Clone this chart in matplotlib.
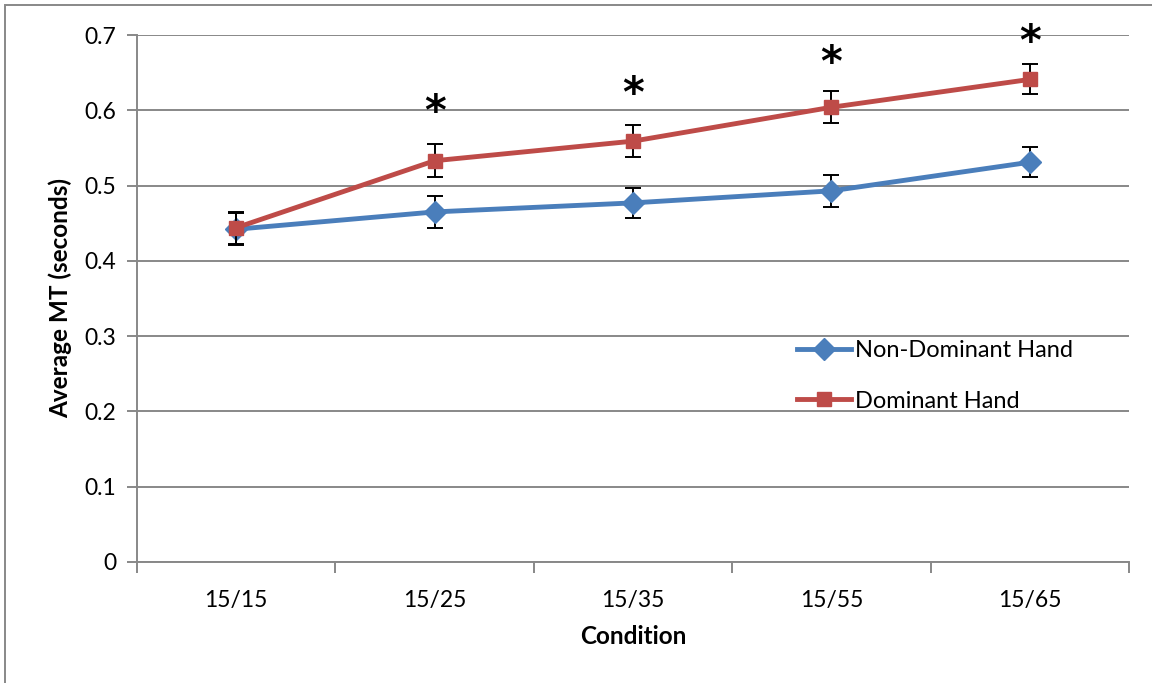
import matplotlib
matplotlib.use("Agg")
import matplotlib.pyplot as plt
from matplotlib.patches import Rectangle
from matplotlib.lines import Line2D

categories = ["15/15", "15/25", "15/35", "15/55", "15/65"]
non_dominant = [0.442, 0.465, 0.477, 0.493, 0.531]
non_dominant_err = [0.021, 0.021, 0.020, 0.021, 0.020]
dominant = [0.444, 0.533, 0.559, 0.604, 0.641]
dominant_err = [0.021, 0.022, 0.021, 0.021, 0.020]
star_y = [None, 0.596, 0.620, 0.661, 0.690]
yticks = [0, 0.1, 0.2, 0.3, 0.4, 0.5, 0.6, 0.7]
series_names = ["Non-Dominant Hand", "Dominant Hand"]

plt.rcParams['font.family'] = ['Lato', 'DejaVu Sans']

W, H = 1152, 683
fig = plt.figure(figsize=(W / 100, H / 100), dpi=100)
ax = fig.add_axes([137 / W, 1 - 562 / H, (1129 - 137) / W, (562 - 35) / H])

blue = "#4A7EBB"
red = "#BE4B48"
grid_c = "#888888"

x = list(range(len(categories)))
ax.errorbar(x, non_dominant, yerr=non_dominant_err, color=blue, lw=3.5,
            marker="D", ms=11, mec=blue, mfc=blue, ecolor="black",
            elinewidth=1.4, capsize=6, capthick=1.4, zorder=3)
ax.errorbar(x, dominant, yerr=dominant_err, color=red, lw=3.5,
            marker="s", ms=10, mec=red, mfc=red, ecolor="black",
            elinewidth=1.4, capsize=6, capthick=1.4, zorder=4)

for xi, sy in zip(x, star_y):
    if sy is not None:
        ax.text(xi, sy, "*", ha="center", va="center", fontsize=30,
                family="DejaVu Sans", fontweight="bold", color="black")

ax.set_xlim(-0.5, len(categories) - 0.5)
ax.set_ylim(0, 0.7)
ax.set_yticks(yticks)
ax.set_yticklabels([f"{v:g}" for v in yticks])
ax.yaxis.grid(True, color=grid_c, lw=1.4)
ax.set_axisbelow(True)

ax.set_xticks([i - 0.5 for i in range(len(categories) + 1)])
ax.set_xticklabels([])
ax.set_xticks(x, minor=True)
ax.set_xticklabels(categories, minor=True)
ax.tick_params(axis="x", which="major", length=8, width=1.4, color=grid_c, direction="out")
ax.tick_params(axis="x", which="minor", length=0, pad=20, labelsize=16.5)
ax.tick_params(axis="y", length=7, width=1.4, color=grid_c, direction="out", labelsize=16.5, pad=8)

for s in ["top", "right"]:
    ax.spines[s].set_visible(False)
for s in ["left", "bottom"]:
    ax.spines[s].set_color(grid_c)
    ax.spines[s].set_linewidth(1.4)

ax.set_xlabel("Condition", fontsize=17.5, fontweight="bold", labelpad=10)
ax.set_ylabel("Average MT (seconds)", fontsize=17.5, fontweight="bold", labelpad=9)

handles = [Line2D([], [], color=blue, lw=3.5, marker="D", ms=11),
           Line2D([], [], color=red, lw=3.5, marker="s", ms=10)]
leg = ax.legend(handles, series_names, loc="upper left",
                bbox_to_anchor=((797 - 137) / (1129 - 137), 1 - (340 - 35) / (562 - 35)),
                frameon=False, fontsize=17, handlelength=2.3, handletextpad=0.15,
                labelspacing=1.25, borderaxespad=0, borderpad=0)

fig.patches.append(Rectangle((5 / W, -0.1), 1.2, (1 - 5 / H) + 0.1, transform=fig.transFigure,
                             fill=False, edgecolor=grid_c, lw=1.4))

fig.savefig("out.png", dpi=100)
